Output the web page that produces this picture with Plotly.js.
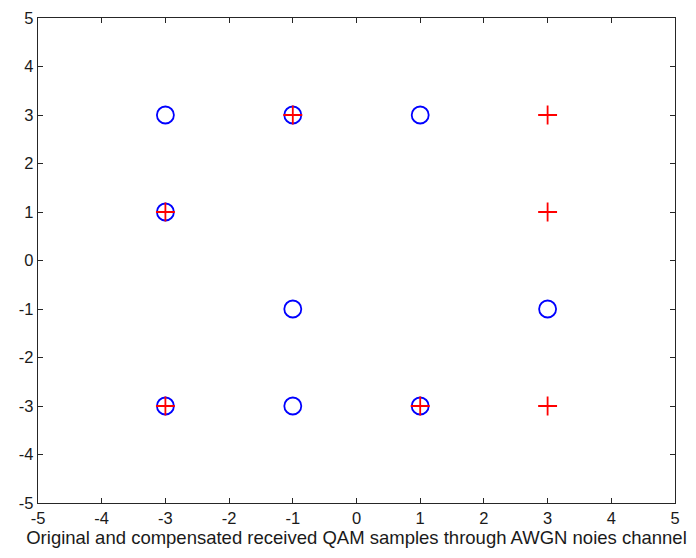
<!DOCTYPE html>
<html><head><meta charset="utf-8">
<script src="https://cdn.plot.ly/plotly-3.0.1.min.js"></script>
<style>html,body{margin:0;padding:0;background:#fff;}#c{width:696px;height:558px;}</style>
</head><body><div id="c"></div>
<script>
var origX = [-3, -1, 1, -3, -1, 3, -3, -1, 1];
var origY = [3, 3, 3, 1, -1, -1, -3, -3, -3];
var compX = [-1, 3, -3, 3, -3, 1, 3];
var compY = [3, 3, 1, 1, -3, -3, -3];
var tickVals = [-5, -4, -3, -2, -1, 0, 1, 2, 3, 4, 5];
var tickText = ['-5', '-4', '-3', '-2', '-1', '0', '1', '2', '3', '4', '5'];

var traces = [
  {x: origX, y: origY, mode: 'markers', type: 'scatter',
   marker: {symbol: 'circle-open', size: 17, color: '#0000ff', line: {width: 1.8, color: '#0000ff'}}},
  {x: compX, y: compY, mode: 'markers', type: 'scatter',
   marker: {symbol: 'cross-thin-open', size: 13.5, color: '#ff0000', line: {width: 1.8, color: '#ff0000'}}}
];
var axisCommon = {
  range: [-5, 5], tickvals: tickVals, ticktext: tickText, ticks: 'inside', ticklen: 5, tickcolor: '#262626',
  showgrid: false, zeroline: false, showline: true, linecolor: '#262626', linewidth: 1.2,
  mirror: 'ticks', tickfont: {family: 'Liberation Sans, Arial, sans-serif', size: 16.5, color: '#1a1a1a'}
};
var layout = {
  width: 696, height: 558,
  margin: {l: 38, r: 21, t: 18, b: 55},
  showlegend: false,
  paper_bgcolor: '#fff', plot_bgcolor: '#fff',
  xaxis: Object.assign({}, axisCommon, {
    ticklabelstandoff: 0,
    title: {text: 'Original and compensated received QAM samples through AWGN noies channel',
            font: {family: 'Liberation Sans, Arial, sans-serif', size: 18.5, color: '#1a1a1a'}, standoff: 2}
  }),
  yaxis: Object.assign({}, axisCommon)
};
Plotly.newPlot('c', traces, layout, {displayModeBar: false, staticPlot: true});
</script></body></html>
